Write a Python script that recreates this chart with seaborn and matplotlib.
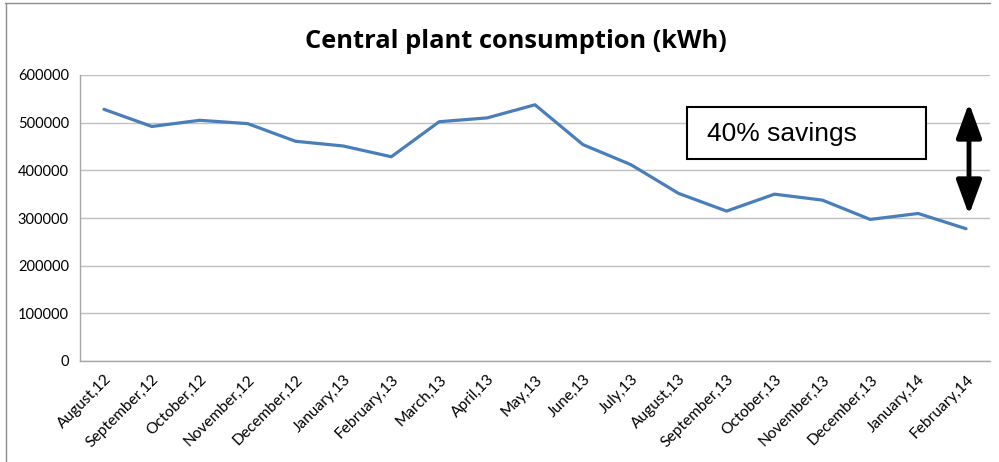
import matplotlib
matplotlib.use("Agg")
import matplotlib.pyplot as plt
import seaborn as sns
import pandas as pd
import numpy as np
from matplotlib.patches import Rectangle
from matplotlib.lines import Line2D

months = ["August,12", "September,12", "October,12", "November,12", "December,12",
          "January,13", "February,13", "March,13", "April,13", "May,13", "June,13",
          "July,13", "August,13", "September,13", "October,13", "November,13",
          "December,13", "January,14", "February,14"]
consumption = [528000, 492000, 505000, 498000, 461000, 451000, 428500, 502000,
               510000, 537500, 454000, 412000, 351500, 314500, 350000, 337500,
               297000, 309500, 277500]
yticks = [0, 100000, 200000, 300000, 400000, 500000, 600000]
title = "Central plant consumption (kWh)"
note = "40% savings"

sns.set_theme(style="white")
plt.rcParams["font.family"] = ["Lato", "DejaVu Sans"]

W, H = 999, 462
fig = plt.figure(figsize=(W / 100, H / 100), dpi=100)
ax = fig.add_axes([80 / W, 1 - 361 / H, 910 / W, 286 / H])

df = pd.DataFrame({"pos": np.arange(len(months)), "kwh": consumption})
sns.lineplot(data=df, x="pos", y="kwh", ax=ax, color="#4A7EBB", linewidth=2.3)

ax.set_xlim(-0.5, len(months) - 0.5)
ax.set_ylim(0, 600000)
ax.set_yticks(yticks)
ax.set_yticklabels([str(v) for v in yticks], fontsize=10.5, color="#000000")
ax.set_xticks(np.arange(len(months)))
ax.set_xticklabels(months, rotation=45, ha="right", rotation_mode="anchor",
                   fontsize=11.2, color="#000000")
ax.set_xticks(np.arange(len(months) + 1) - 0.5, minor=True)
ax.tick_params(axis="x", which="major", length=0, pad=8)
ax.tick_params(axis="x", which="minor", length=5, color="#A6A6A6", width=1, direction="out")
ax.tick_params(axis="y", length=5, color="#A6A6A6", width=1, direction="out", pad=3)
ax.set_xlabel("")
ax.set_ylabel("")
ax.grid(axis="y", color="#BFBFBF", linewidth=1)
ax.grid(axis="x", visible=False)
for s in ["top", "right"]:
    ax.spines[s].set_visible(False)
for s in ["left", "bottom"]:
    ax.spines[s].set_visible(True)
    ax.spines[s].set_color("#A6A6A6")
    ax.spines[s].set_linewidth(1)

fig.text(516 / W, 1 - 41 / H, title, ha="center", va="center",
         fontsize=18.3, fontweight="bold", family=["Open Sans", "DejaVu Sans"], color="#000000")

# outer frame (top & left edges visible)
fig.add_artist(Line2D([5 / W, 990 / W], [1 - 2.5 / H, 1 - 2.5 / H], transform=fig.transFigure,
                      color="#8C8C8C", linewidth=1))
fig.add_artist(Line2D([5.5 / W, 5.5 / W], [1 - 2.5 / H, 0], transform=fig.transFigure,
                      color="#8C8C8C", linewidth=1))

# annotation box
fig.add_artist(Rectangle((687 / W, 1 - 159 / H), 239 / W, 52 / H, transform=fig.transFigure,
                         facecolor="white", edgecolor="black", linewidth=1.5, zorder=5))
fig.text(707 / W, 1 - 134 / H, note, ha="left", va="center", fontsize=19,
         family=["Liberation Sans", "DejaVu Sans"], color="black", zorder=6)

# double-headed arrow
ax.annotate("", xy=(969 / W, 1 - 215 / H), xytext=(969 / W, 1 - 103 / H),
            xycoords="figure fraction", textcoords="figure fraction",
            arrowprops=dict(arrowstyle="<|-|>,head_length=1.5,head_width=0.55",
                            color="black", lw=3.5, mutation_scale=14,
                            shrinkA=0, shrinkB=0))

fig.savefig("out.png", dpi=100)
